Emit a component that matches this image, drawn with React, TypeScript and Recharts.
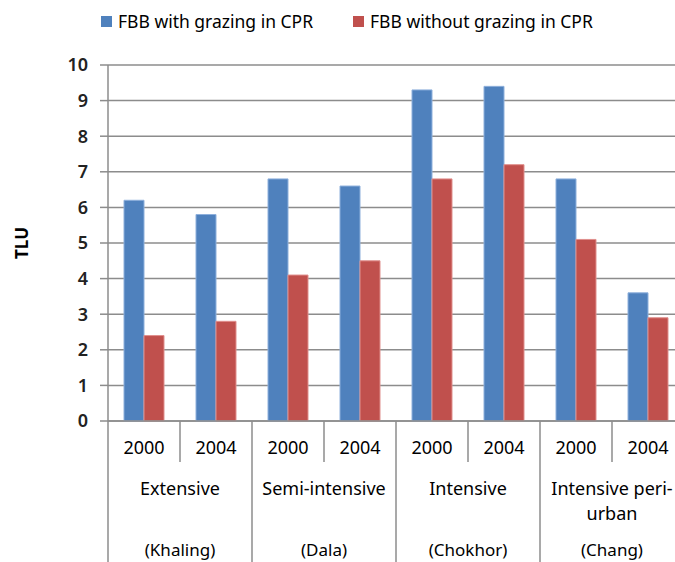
import { Bar, BarChart, CartesianGrid, XAxis, YAxis } from "recharts";

const years = ["2000", "2004", "2000", "2004", "2000", "2004", "2000", "2004"];
const withGrazing = [6.2, 5.8, 6.8, 6.6, 9.3, 9.4, 6.8, 3.6];
const withoutGrazing = [2.4, 2.8, 4.1, 4.5, 6.8, 7.2, 5.1, 2.9];
const groupLines = [["Extensive"], ["Semi-intensive"], ["Intensive"], ["Intensive peri-", "urban"]];
const regions = ["(Khaling)", "(Dala)", "(Chokhor)", "(Chang)"];
const yTicks = [0, 1, 2, 3, 4, 5, 6, 7, 8, 9, 10];

const data = years.map((year, i) => ({
  year,
  withGrazing: withGrazing[i],
  withoutGrazing: withoutGrazing[i]
}));

const fontFamily = "'Noto Sans', sans-serif";
const lineColor = "#8c8c8c";
const blue = "#4f81bd";
const red = "#c0504d";

// y here is the axis line itself (tickSize and tickMargin are 0 on the XAxis)
function CategoryTick(props: any) {
  const { x, y, payload, index } = props;
  const half = payload?.offset || 36;
  const left = x - half;
  const isGroupStart = index % 2 === 0;
  const group = Math.floor(index / 2);

  return (
    <g>
      <line
        x1={left}
        x2={left}
        y1={y}
        y2={isGroupStart ? 562 : y + 41}
        stroke={lineColor}
        strokeWidth={1.5}
      />
      {index === years.length - 1 && (
        <line x1={x + half} x2={x + half} y1={y} y2={562} stroke={lineColor} strokeWidth={1.5} />
      )}
      <text x={x} y={y + 33} textAnchor="middle" fontSize={18} fill="#000" fontFamily={fontFamily}>
        {payload.value}
      </text>
      {!isGroupStart && (
        <g>
          {groupLines[group].map((line, j) => (
            <text
              key={line}
              x={left}
              y={y + 74 + j * 25}
              textAnchor="middle"
              fontSize={18}
              fill="#000"
              fontFamily={fontFamily}
            >
              {line}
            </text>
          ))}
          <text x={left} y={y + 135} textAnchor="middle" fontSize={17} fill="#000" fontFamily={fontFamily}>
            {regions[group]}
          </text>
        </g>
      )}
    </g>
  );
}

function ChartLegend() {
  const items = [
    { name: "FBB with grazing in CPR", color: blue, left: 101 },
    { name: "FBB without grazing in CPR", color: red, left: 353 }
  ];
  return (
    <div style={{ position: "absolute", top: 9, left: 0, width: 675, height: 26, fontFamily, fontSize: 17.5 }}>
      {items.map((item) => (
        <div
          key={item.name}
          style={{ position: "absolute", left: item.left, top: 0, display: "flex", alignItems: "center", whiteSpace: "nowrap" }}
        >
          <span style={{ width: 11, height: 11, background: item.color, display: "inline-block", marginRight: 6 }} />
          <span style={{ color: "#000" }}>{item.name}</span>
        </div>
      ))}
    </div>
  );
}

export default function App() {
  return (
    <div
      style={{
        position: "fixed",
        top: 0,
        left: 0,
        width: 675,
        height: 562,
        overflow: "hidden",
        background: "#fff"
      }}
    >
      <BarChart
        width={690}
        height={562}
        data={data}
        margin={{ top: 65, right: 6, bottom: 0, left: 0 }}
        barGap={0}
        barSize={20}
      >
        <CartesianGrid vertical={false} stroke={lineColor} strokeWidth={1.5} />
        <XAxis
          dataKey="year"
          interval={0}
          height={141}
          axisLine={{ stroke: lineColor, strokeWidth: 1.5 }}
          tickLine={false}
          tickSize={0}
          tickMargin={0}
          tick={<CategoryTick />}
        />
        <YAxis
          domain={[0, 10]}
          ticks={yTicks}
          interval={0}
          width={108}
          axisLine={{ stroke: lineColor, strokeWidth: 1.5 }}
          tickLine={{ stroke: lineColor, strokeWidth: 1.5 }}
          tickSize={8}
          tickMargin={12}
          tick={{ fill: "#222", fontSize: 18, fontWeight: 600, fontFamily }}
          label={{
            value: "TLU",
            angle: -90,
            position: "insideLeft",
            offset: 22,
            style: { fill: "#000", fontSize: 17, fontWeight: 700, fontFamily, textAnchor: "middle" }
          }}
        />
        <Bar
          dataKey="withGrazing"
          name="FBB with grazing in CPR"
          fill={blue}
          stroke="#8eb0dc"
          strokeWidth={1}
          isAnimationActive={false}
        />
        <Bar
          dataKey="withoutGrazing"
          name="FBB without grazing in CPR"
          fill={red}
          stroke="#e08f8d"
          strokeWidth={1}
          isAnimationActive={false}
        />
      </BarChart>
      <ChartLegend />
    </div>
  );
}
